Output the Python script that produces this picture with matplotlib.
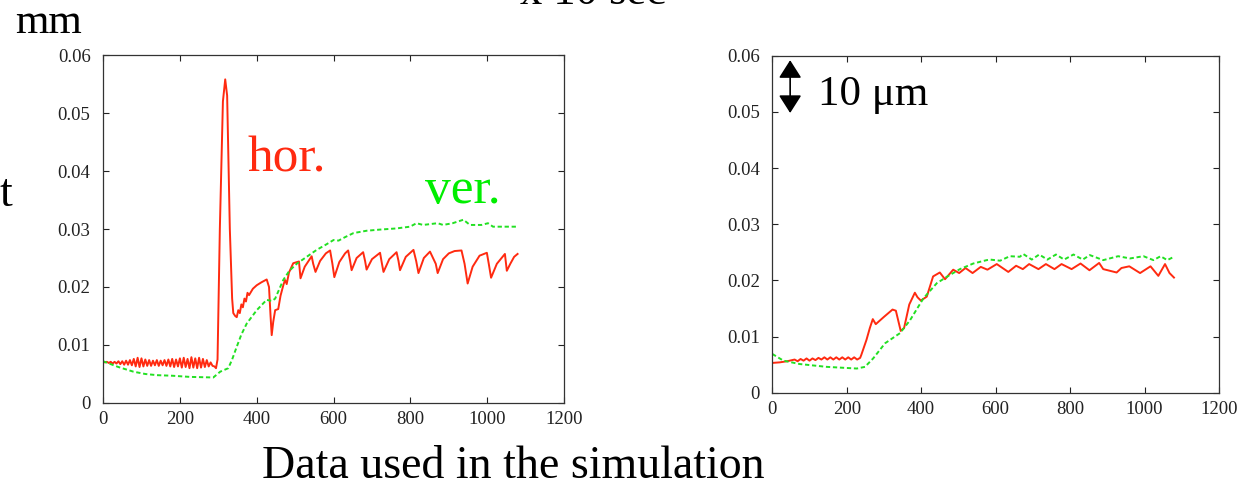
#!/usr/bin/env python3
import matplotlib
matplotlib.use('Agg')
import matplotlib.pyplot as plt

plt.rcParams['font.family'] = ['Liberation Serif', 'DejaVu Serif']

RED = '#ff2a10'
GREEN = '#22e022'

# left panel, horizontal (red) - time in units of 10 sec, value in mm
left_hor_t = [0, 5, 10, 15, 20, 25, 30, 35, 40, 45, 50, 55, 60, 65, 70, 75, 80, 85, 90, 95,
              100, 105, 110, 115, 120, 125, 130, 135, 140, 145, 150, 155, 160, 165, 170, 175,
              180, 185, 190, 195, 200, 205, 210, 215, 220, 225, 230, 235, 240, 245, 250, 255,
              260, 265, 270, 275, 280, 285, 290, 294, 298, 304, 312, 318, 323, 330, 336, 339,
              344, 348, 352, 356, 360, 364, 368, 372, 376, 380, 390, 400, 412, 426, 432, 436,
              439, 443, 448, 456, 462, 470, 474, 478, 484, 495, 510, 514, 525, 543, 547, 553,
              565, 580, 591, 597, 602, 615, 630, 638, 643, 647, 660, 677, 682, 686, 700, 721,
              726, 730, 745, 764, 769, 773, 788, 808, 815, 821, 835, 851, 866, 871, 885, 900,
              915, 933, 941, 949, 962, 980, 999, 1004, 1010, 1025, 1046, 1048, 1051, 1060,
              1070, 1079]
left_hor_v = [0.0071, 0.0070, 0.0071, 0.0069, 0.0071, 0.0068, 0.0071, 0.0068, 0.0072, 0.0067,
              0.0072, 0.0066, 0.0073, 0.0066, 0.0074, 0.0065, 0.0076, 0.0063, 0.0078, 0.0062,
              0.0077, 0.0063, 0.0075, 0.0064, 0.0074, 0.0064, 0.0073, 0.0065, 0.0074, 0.0064,
              0.0073, 0.0065, 0.0074, 0.0064, 0.0075, 0.0063, 0.0076, 0.0062, 0.0075, 0.0063,
              0.0077, 0.0061, 0.0078, 0.0062, 0.0076, 0.0060, 0.0079, 0.0061, 0.0077, 0.0060,
              0.0078, 0.0061, 0.0076, 0.0062, 0.0074, 0.0063, 0.0070, 0.0064, 0.0063, 0.0060,
              0.0075, 0.0300, 0.0520, 0.0558, 0.0530, 0.0300, 0.0180, 0.0155,
              0.0150, 0.0148, 0.0160, 0.0155, 0.0170, 0.0165, 0.0180, 0.0175, 0.0190, 0.0186,
              0.0197, 0.0203, 0.0208, 0.0213, 0.0200, 0.0150,
              0.0117, 0.0140, 0.0160, 0.0162, 0.0185, 0.0205, 0.0212, 0.0205, 0.0225, 0.0241,
              0.0244, 0.0215, 0.0235, 0.0253, 0.0240, 0.0226,
              0.0245, 0.0258, 0.0263, 0.0240, 0.0217, 0.0243, 0.0258, 0.0263, 0.0245, 0.0229,
              0.0250, 0.0260, 0.0245, 0.0230, 0.0248, 0.0259,
              0.0240, 0.0226, 0.0248, 0.0260, 0.0245, 0.0229, 0.0252, 0.0264, 0.0245, 0.0224,
              0.0250, 0.0261, 0.0240, 0.0224, 0.0248, 0.0258,
              0.0262, 0.0263, 0.0240, 0.0206, 0.0235, 0.0254, 0.0259, 0.0240, 0.0216, 0.0240,
              0.0257, 0.0245, 0.0228, 0.0240, 0.0252, 0.0257]

# left panel, vertical (green)
left_ver_t = [0, 40, 79, 110, 140, 180, 226, 287, 296, 305, 326, 336, 348, 360, 374, 400,
              426, 431, 440, 448, 469, 485, 504, 530, 556, 580, 600, 613, 630, 652, 686, 721,
              764, 799, 816, 833, 871, 885, 910, 938, 955, 985, 1002, 1015, 1050, 1079]
left_ver_v = [0.0072, 0.0062, 0.0054, 0.0050, 0.0048, 0.0047, 0.0045, 0.0044, 0.0049, 0.0054,
              0.0060, 0.0075, 0.0097, 0.0118, 0.0137, 0.0160,
              0.0178, 0.0177, 0.0176, 0.0180, 0.0212, 0.0228, 0.0240, 0.0252, 0.0264, 0.0273,
              0.0281, 0.0280, 0.0286, 0.0293, 0.0297, 0.0299,
              0.0301, 0.0304, 0.0310, 0.0307, 0.0310, 0.0307, 0.0310, 0.0316, 0.0307, 0.0307,
              0.0310, 0.0304, 0.0304, 0.0304]

# right panel, horizontal (red)
right_hor_t = [0, 20, 40, 60, 68, 76, 84, 92, 100, 108, 116, 124, 132, 140, 148, 156, 164,
               172, 180, 188, 196, 204, 212, 220, 228, 236, 239, 253, 262, 270, 278, 300, 323,
               332, 345, 354, 368, 383, 390, 399, 415, 432, 450, 464, 486, 502, 519, 538, 560,
               578, 603, 634, 655, 673, 690, 715, 735, 758, 777, 804, 828, 852, 878, 889, 925,
               938, 959, 988, 1016, 1037, 1055, 1067, 1079]
right_hor_v = [0.0053, 0.0054, 0.0056, 0.0059, 0.0056, 0.0060, 0.0057, 0.0061, 0.0057, 0.0061,
               0.0058, 0.0062, 0.0059, 0.0063, 0.0059, 0.0063, 0.0059, 0.0063, 0.0059, 0.0063,
               0.0059, 0.0063, 0.0059, 0.0063, 0.0059, 0.0062, 0.0067, 0.0094, 0.0115, 0.0131,
               0.0122, 0.0135, 0.0148, 0.0146, 0.0110, 0.0115, 0.0157, 0.0178, 0.0170, 0.0164,
               0.0171, 0.0207, 0.0214, 0.0202, 0.0219, 0.0213, 0.0222, 0.0213, 0.0224, 0.0219,
               0.0229, 0.0215, 0.0226, 0.0220, 0.0229, 0.0220, 0.0229, 0.0220, 0.0229, 0.0220,
               0.0230, 0.0218, 0.0231, 0.0220, 0.0214, 0.0222, 0.0225, 0.0213, 0.0225, 0.0208,
               0.0229, 0.0213, 0.0205]

# right panel, vertical (green)
right_ver_t = [0, 30, 74, 146, 227, 249, 271, 303, 343, 370, 406, 442, 473, 504, 540, 576,
               585, 612, 638, 665, 674, 697, 717, 739, 762, 784, 809, 834, 853, 889, 929, 961,
               997, 1024, 1043, 1061, 1079]
right_ver_v = [0.0069, 0.0057, 0.0051, 0.0046, 0.0043, 0.0046, 0.0061, 0.0088, 0.0106, 0.0129,
               0.0168, 0.0195, 0.0208, 0.0220, 0.0230, 0.0236,
               0.0237, 0.0235, 0.0243, 0.0242, 0.0247, 0.0237, 0.0246, 0.0237, 0.0246, 0.0237,
               0.0246, 0.0237, 0.0245, 0.0236, 0.0243, 0.0239,
               0.0243, 0.0236, 0.0243, 0.0236, 0.0242]

x_ticks = [0, 200, 400, 600, 800, 1000, 1200]
y_ticks = [0, 0.01, 0.02, 0.03, 0.04, 0.05, 0.06]
y_tick_labels = ['0', '0.01', '0.02', '0.03', '0.04', '0.05', '0.06']


def style_axes(ax):
    ax.set_xlim(0, 1200)
    ax.set_ylim(0, 0.06)
    ax.set_xticks(x_ticks)
    ax.set_xticklabels([str(t) for t in x_ticks])
    ax.set_yticks(y_ticks)
    ax.set_yticklabels(y_tick_labels)
    ax.tick_params(direction='in', length=4, width=0.8, top=True, right=True,
                   labelsize=13.5, colors='#222222')
    ax.tick_params(axis='y', pad=9)
    ax.tick_params(axis='x', pad=6)
    for s in ax.spines.values():
        s.set_linewidth(0.9)
        s.set_color('#333333')


fig = plt.figure(figsize=(12.43, 4.86), dpi=100)
H = 486.0
W = 1243.0


def ftext(x, y, s, size, **kw):
    # x, y in pixels from the top-left corner
    fig.text(x / W, 1 - y / H, s, fontsize=size, va='baseline', **kw)


ax1 = fig.add_axes([0.0829, 0.1708, 0.3709, 0.716])
ax1.plot(left_hor_t, left_hor_v, color=RED, lw=1.4)
ax1.plot(left_ver_t, left_ver_v, color=GREEN, lw=1.4, ls=(0, (2.2, 1.4)))
style_axes(ax1)

ax2 = fig.add_axes([0.6213, 0.192, 0.3594, 0.6934])
ax2.plot(right_hor_t, right_hor_v, color=RED, lw=1.4)
ax2.plot(right_ver_t, right_ver_v, color=GREEN, lw=1.4, ls=(0, (2.2, 1.4)))
style_axes(ax2)
ax2.annotate('', xy=(48, 0.0592), xytext=(48, 0.0498),
             arrowprops=dict(arrowstyle='<|-|>,head_length=1.1,head_width=0.7',
                             color='black', lw=1.2, shrinkA=0, shrinkB=0))

ftext(247, 171, 'hor.', 37, color=RED)
ftext(425, 203, 'ver.', 37, color='#00ee00')
ftext(818, 105, '10 μm', 31)
ftext(15, 33, 'mm', 31)
ftext(0, 206, 't', 33)
ftext(520, 4, 'x 10 sec', 32)
ftext(262, 478, 'Data used in the simulation', 33)

fig.savefig('out.png', dpi=100)
